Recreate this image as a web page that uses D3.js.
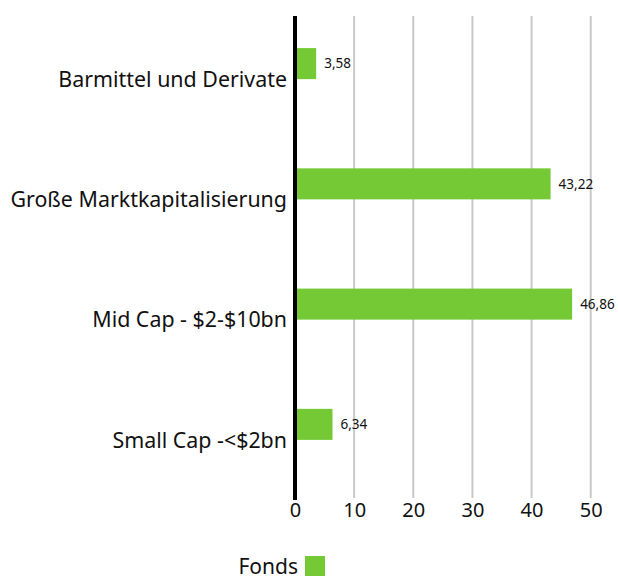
<!DOCTYPE html>
<html>
<head>
<meta charset="utf-8">
<script src="https://cdn.jsdelivr.net/npm/d3@7"></script>
<style>
  html, body { margin: 0; padding: 0; background: #fff; }
  svg { display: block; font-family: "Noto Sans", "Liberation Sans", sans-serif; }
</style>
</head>
<body>
<svg id="chart" width="618" height="579"></svg>
<script>
const categories = ["Barmittel und Derivate", "Große Marktkapitalisierung", "Mid Cap - $2-$10bn", "Small Cap -<$2bn"];
const fondsValues = [3.58, 43.22, 46.86, 6.34];
const seriesNames = ["Fonds"];
const xTicks = [0, 10, 20, 30, 40, 50];

const svg = d3.select("#chart");
const green = "#74c935";

const x = d3.scaleLinear().domain([0, 50]).range([295, 590.7]);
const y = d3.scaleBand().domain(categories).range([19, 500]).paddingInner(0.484).paddingOuter(0.242);
const slot = d3.scaleBand().domain([0, 1]).range([0, y.bandwidth()]);

const fmt = v => d3.format(".2f")(v).replace(".", ",");

// gridlines
svg.append("g").selectAll("line").data(xTicks.filter(t => t > 0)).join("line")
  .attr("x1", d => x(d)).attr("x2", d => x(d))
  .attr("y1", 16).attr("y2", 498)
  .attr("stroke", "#c8c8c8").attr("stroke-width", 2);

// bars
svg.append("g").selectAll("rect").data(fondsValues).join("rect")
  .attr("x", x(0))
  .attr("y", (d, i) => y(categories[i]) + slot(0))
  .attr("width", d => x(d) - x(0))
  .attr("height", slot.bandwidth())
  .attr("fill", green);

// value labels
svg.append("g").selectAll("text").data(fondsValues).join("text")
  .attr("x", d => x(d) + 8)
  .attr("y", (d, i) => y(categories[i]) + slot(0) + slot.bandwidth() / 2)
  .attr("dy", "0.35em")
  .attr("font-size", 13.5)
  .attr("fill", "#111")
  .text(d => fmt(d));

// y axis line
svg.append("line")
  .attr("x1", 295).attr("x2", 295).attr("y1", 16).attr("y2", 500)
  .attr("stroke", "#000").attr("stroke-width", 4);

// category labels
svg.append("g").selectAll("text").data(categories).join("text")
  .attr("x", 287)
  .attr("y", d => y(d) + y.bandwidth() / 2)
  .attr("dy", "0.36em")
  .attr("text-anchor", "end")
  .attr("font-size", 21.4)
  .attr("fill", "#111")
  .text(d => d);

// x tick labels
const xAxis = d3.axisBottom(x).tickValues(xTicks).tickSize(0).tickPadding(0);
const gx = svg.append("g").attr("transform", "translate(0,503)").call(xAxis);
gx.select(".domain").remove();
gx.selectAll("text").attr("font-size", 20).attr("fill", "#111").attr("font-family", "Noto Sans, Liberation Sans, sans-serif").attr("dy", "0.71em");

// legend
const lg = svg.append("g");
lg.selectAll("text").data(seriesNames).join("text")
  .attr("x", 298).attr("y", 574)
  .attr("text-anchor", "end")
  .attr("font-size", 21).attr("fill", "#111")
  .text(d => d);
lg.selectAll("rect").data(seriesNames).join("rect")
  .attr("x", 305).attr("y", 556).attr("width", 20).attr("height", 20)
  .attr("fill", green);
</script>
</body>
</html>
